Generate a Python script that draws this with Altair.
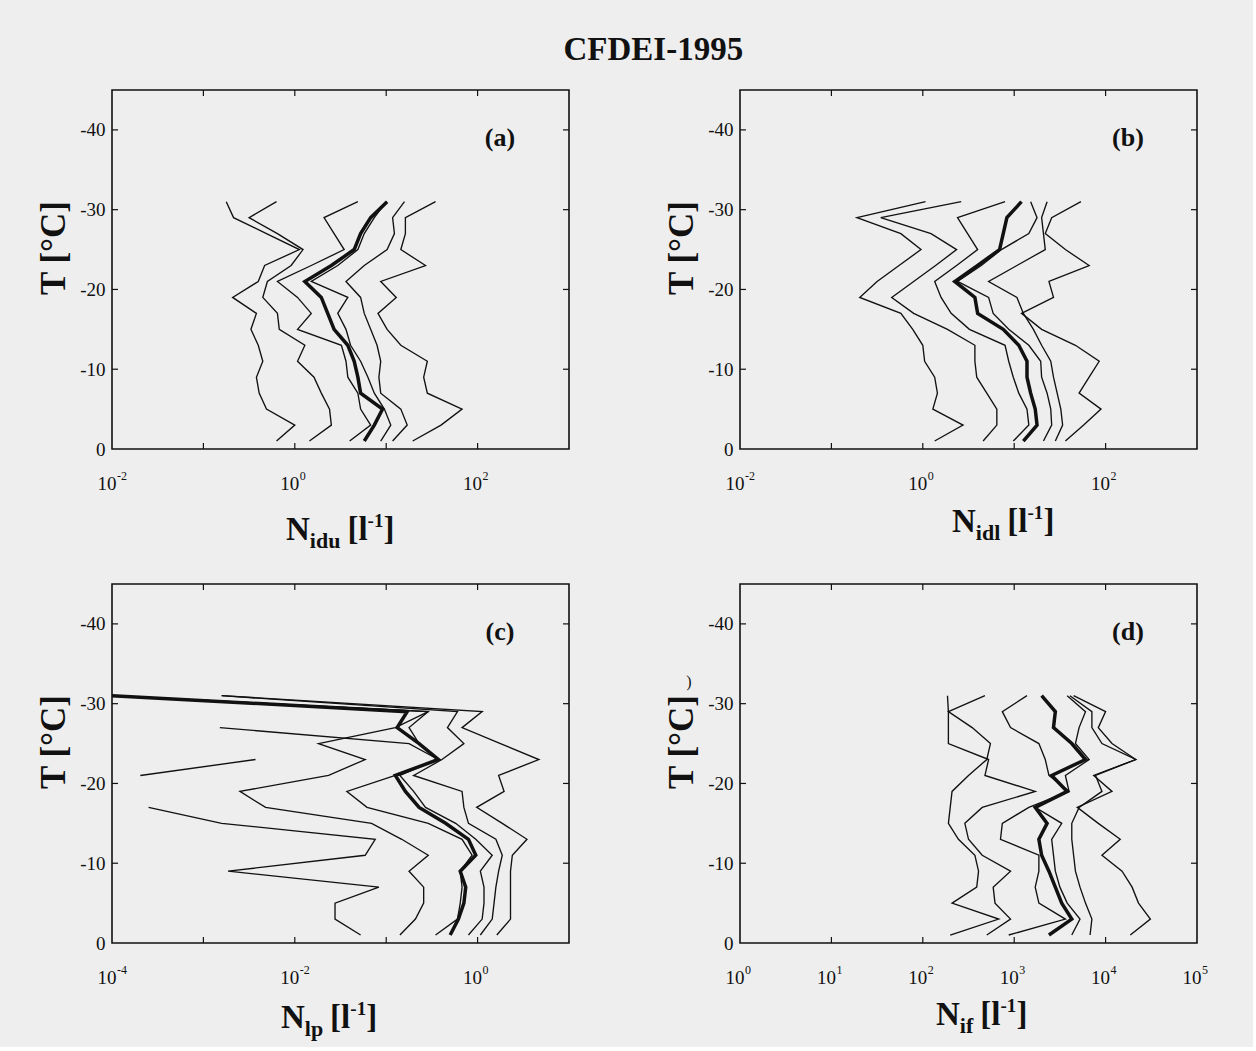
import altair as alt
import pandas as pd

TEMPS = [-1, -3, -5, -7, -9, -11, -13, -15, -17, -19, -21, -23, -25, -27, -29, -31]
Y_TICKS = [0, -10, -20, -30, -40]

# log10 of the concentration, for T = -1 ... -31 degC
A_LINES = [
    [-0.20, 0.00, -0.31, -0.39, -0.42, -0.35, -0.40, -0.48, -0.42, -0.68, -0.40, -0.33, 0.05, -0.31, -0.67, -0.75],
    [0.16, 0.40, 0.38, 0.29, 0.21, 0.03, 0.11, -0.17, -0.19, -0.35, -0.30, -0.04, 0.09, -0.19, -0.50, -0.20],
    [0.60, 0.83, 0.72, 0.69, 0.58, 0.56, 0.51, 0.03, 0.18, 0.03, -0.19, 0.18, 0.54, 0.43, 0.32, 0.69],
    [0.94, 1.05, 0.98, 0.87, 0.80, 0.72, 0.61, 0.56, 0.47, 0.58, 0.18, 0.47, 0.69, 0.76, 0.87, 1.00],
    [1.07, 1.23, 1.16, 0.94, 0.92, 0.94, 0.90, 0.83, 0.76, 0.72, 0.56, 0.76, 1.01, 1.09, 1.07, 1.20],
    [1.29, 1.60, 1.83, 1.45, 1.41, 1.45, 1.16, 1.01, 0.91, 1.11, 0.94, 1.43, 1.16, 1.21, 1.21, 1.54],
]
A_THICK = [0.76, 0.87, 0.96, 0.72, 0.69, 0.65, 0.58, 0.43, 0.36, 0.29, 0.11, 0.40, 0.65, 0.72, 0.83, 1.01]

B_LINES = [
    [0.13, 0.44, 0.11, 0.16, 0.13, 0.02, 0.00, -0.11, -0.24, -0.69, -0.50, -0.26, -0.02, -0.24, -0.72, 0.03],
    [0.66, 0.81, 0.81, 0.70, 0.59, 0.57, 0.57, 0.27, -0.10, -0.34, -0.10, 0.14, 0.37, 0.09, -0.46, 0.42],
    [0.99, 1.16, 1.14, 1.05, 0.99, 0.94, 0.90, 0.51, 0.31, 0.20, 0.13, 0.37, 0.60, 0.49, 0.38, 0.90],
    [1.32, 1.41, 1.40, 1.36, 1.30, 1.29, 1.16, 0.94, 0.77, 0.72, 0.38, 0.64, 0.86, 1.16, 1.25, 1.18],
    [1.45, 1.53, 1.51, 1.47, 1.43, 1.40, 1.30, 1.21, 1.10, 1.03, 0.72, 1.03, 1.34, 1.32, 1.30, 1.36],
    [1.56, 1.76, 1.95, 1.71, 1.82, 1.93, 1.67, 1.30, 1.08, 1.43, 1.38, 1.82, 1.56, 1.34, 1.41, 1.73],
]
B_THICK = [1.10, 1.25, 1.23, 1.18, 1.14, 1.14, 1.05, 0.88, 0.60, 0.57, 0.35, 0.60, 0.84, 0.88, 0.92, 1.08]

C_LINES = [
    [-1.28, -1.56, -1.56, -1.08, -2.73, -1.23, -1.12, -2.80, -3.60, None, -3.69, -2.43, None, None, None, None],
    [-0.85, -0.68, -0.59, -0.59, -0.75, -0.54, -0.83, -1.16, -2.32, -2.60, -1.63, -1.23, -1.74, -0.90, -0.54, -4.0],
    [-0.46, -0.22, -0.19, -0.17, -0.19, -0.06, -0.17, -0.54, -1.21, -1.43, -0.90, -0.43, -0.75, -2.82, None, None],
    [-0.10, 0.05, 0.07, 0.07, 0.03, 0.16, -0.02, -0.24, -0.57, -0.70, -0.85, -0.44, -0.64, -0.75, -0.54, -4.0],
    [0.03, 0.16, 0.18, 0.20, 0.23, 0.27, 0.20, -0.10, -0.15, -0.17, -0.70, -0.39, -0.15, -0.33, -0.22, -2.80],
    [0.21, 0.36, 0.36, 0.36, 0.36, 0.38, 0.54, 0.27, -0.01, 0.29, 0.23, 0.67, 0.25, -0.17, 0.05, -2.80],
]
C_THICK = [-0.30, -0.21, -0.15, -0.13, -0.19, -0.02, -0.10, -0.35, -0.64, -0.79, -0.90, -0.43, -0.64, -0.88, -0.77, -4.0]

D_LINES = [
    [2.30, 2.83, 2.32, 2.59, 2.61, 2.57, 2.39, 2.28, 2.30, 2.32, 2.50, 2.70, 2.74, 2.54, 2.28, 2.68],
    [2.70, 2.96, 2.79, 2.77, 2.96, 2.65, 2.50, 2.46, 2.65, 3.23, 2.68, 2.72, 2.28, 2.28, 2.28, 2.27],
    [2.94, 3.56, 3.27, 3.23, 3.27, 3.27, 2.85, 2.87, 3.16, 3.60, 3.38, 3.34, 3.27, 2.96, 2.87, 3.14],
    [3.63, 3.72, 3.58, 3.50, 3.45, 3.43, 3.41, 3.52, 3.23, 3.60, 3.56, 3.82, 3.67, 3.71, 3.78, 3.58],
    [3.83, 3.85, 3.78, 3.72, 3.67, 3.65, 3.63, 3.63, 3.71, 3.96, 3.89, 4.33, 3.96, 3.85, 3.85, 3.61],
    [4.27, 4.49, 4.36, 4.29, 4.18, 3.96, 4.16, 3.92, 3.69, 4.07, 3.87, 4.33, 4.07, 3.92, 4.00, 3.65],
]
D_THICK = [3.38, 3.63, 3.52, 3.45, 3.38, 3.30, 3.27, 3.36, 3.23, 3.58, 3.41, 3.78, 3.63, 3.43, 3.45, 3.30]

# axis decades (exponents) and labelled decades
A_DECADES = [-2, -1, 0, 1, 2, 3]
A_LABELS = ["-2", "0", "2"]
B_DECADES = [-2, -1, 0, 1, 2, 3]
B_LABELS = ["-2", "0", "2"]
C_DECADES = [-4, -3, -2, -1, 0, 1]
C_LABELS = ["-4", "-2", "0"]
D_DECADES = [0, 1, 2, 3, 4, 5]
D_LABELS = ["0", "1", "2", "3", "4", "5"]

SUBS = {"a": "idu", "b": "idl", "c": "lp", "d": "if"}
LETTERS = {"a": "(a)", "b": "(b)", "c": "(c)", "d": "(d)"}

W, H = 457, 359
SERIF = "Liberation Serif"
INK = "#111111"


def line_frame(lines, thick):
    rows = []
    allc = [(f"t{i}", v, False) for i, v in enumerate(lines)] + [("thick", thick, True)]
    for name, vals, is_thick in allc:
        seg = 0
        for k, (t, v) in enumerate(zip(TEMPS, vals)):
            if v is None:
                seg += 1
                continue
            rows.append({"curve": name, "seg": f"{name}-{seg}", "k": k, "T": t,
                         "N": 10 ** v, "thick": is_thick})
    return pd.DataFrame(rows)


def text_at(s, x, y, **kw):
    return alt.Chart(alt.Data(values=[{"s": s}])).mark_text(
        font=SERIF, color=INK, baseline="alphabetic", **kw).encode(
        x=alt.value(x), y=alt.value(y), text="s:N")


def panel(key, lines, thick, decades, labels, title_x, title_y, extra=None):
    df = line_frame(lines, thick)
    xs = alt.Scale(type="log", domain=[10 ** decades[0], 10 ** decades[-1]], nice=False)
    ys = alt.Scale(domain=[0, -45], nice=False, zero=False)
    yaxis = alt.Axis(values=Y_TICKS, labelExpr="toString(datum.value)", ticks=False, domain=False,
                     grid=False, labelFont=SERIF, labelFontSize=19, labelColor=INK, labelPadding=7,
                     title="T [°C]", titleFont=SERIF, titleFontSize=35, titleFontWeight="bold",
                     titleColor=INK, titlePadding=8, titleY=H / 2 - 22)

    thin = alt.Chart(df[~df.thick]).mark_line(color=INK, strokeWidth=1.35, clip=True).encode(
        x=alt.X("N:Q", scale=xs, axis=None),
        y=alt.Y("T:Q", scale=ys, axis=yaxis),
        detail="seg:N", order="k:Q")
    thk = alt.Chart(df[df.thick]).mark_line(color=INK, strokeWidth=3.5, clip=True).encode(
        x=alt.X("N:Q", scale=xs, axis=None),
        y=alt.Y("T:Q", scale=ys),
        detail="seg:N", order="k:Q")

    dec = pd.DataFrame({"v": [10 ** e for e in decades]})
    inner = dec.iloc[1:-1]
    tb = alt.Chart(inner).mark_rule(color=INK, strokeWidth=1.2).encode(
        x=alt.X("v:Q", scale=xs), y=alt.value(H), y2=alt.value(H - 6))
    tt = alt.Chart(inner).mark_rule(color=INK, strokeWidth=1.2).encode(
        x=alt.X("v:Q", scale=xs), y=alt.value(0), y2=alt.value(6))
    yt = pd.DataFrame({"t": Y_TICKS[1:]})
    tl = alt.Chart(yt).mark_rule(color=INK, strokeWidth=1.2).encode(
        y=alt.Y("t:Q", scale=ys), x=alt.value(0), x2=alt.value(6))
    tr = alt.Chart(yt).mark_rule(color=INK, strokeWidth=1.2).encode(
        y=alt.Y("t:Q", scale=ys), x=alt.value(W - 6), x2=alt.value(W))

    lab = pd.DataFrame({"v": [10 ** int(s) for s in labels], "e": labels, "b": ["10"] * len(labels)})
    ten = alt.Chart(lab).mark_text(font=SERIF, fontSize=19, color=INK, align="center",
                                   baseline="alphabetic", dx=-5).encode(
        x=alt.X("v:Q", scale=xs), y=alt.value(H + 41), text="b:N")
    exp = alt.Chart(lab).mark_text(font=SERIF, fontSize=12, color=INK, align="left",
                                   baseline="alphabetic", dx=5).encode(
        x=alt.X("v:Q", scale=xs), y=alt.value(H + 31), text="e:N")

    widths = {"N": 23.8, "idu": 30.6, "idl": 24.5, "lp": 18.3, "if": 13.5, "[l": 20.2, "-1": 16.0, "]": 11}
    gaps = {"[l": 7}
    pieces = [("N", 33, 0), (SUBS[key], 22, 8), ("[l", 33, 0), ("-1", 19, -13), ("]", 33, 0)]
    xt_layers = []
    cx = title_x
    for txt, fs, dy in pieces:
        cx += gaps.get(txt, 0)
        xt_layers.append(text_at(txt, cx, title_y + dy, fontSize=fs, fontWeight="bold", align="left"))
        cx += widths[txt]

    letter = text_at(LETTERS[key], 388, 56, fontSize=26, fontWeight="bold", align="center")

    layers = [thin, thk, tb, tt, tl, tr, ten, exp, letter] + xt_layers
    if extra is not None:
        layers.append(extra)
    return alt.layer(*layers).properties(width=W, height=H)


stray = text_at(")", -51, 103, fontSize=16, align="center")

pa = panel("a", A_LINES, A_THICK, A_DECADES, A_LABELS, 174, 450)
pb = panel("b", B_LINES, B_THICK, B_DECADES, B_LABELS, 212, 442)
pc = panel("c", C_LINES, C_THICK, C_DECADES, C_LABELS, 169, 444)
pd_ = panel("d", D_LINES, D_THICK, D_DECADES, D_LABELS, 196, 441, extra=stray)

chart = alt.concat(pa, pb, pc, pd_, columns=2, spacing={"row": 135, "column": 171},
                   bounds="flush").properties(
    title=alt.TitleParams("CFDEI-1995", font=SERIF, fontSize=33, fontWeight="bold", color=INK,
                          anchor="middle", offset=22, dx=31),
    padding={"left": 35, "top": 33, "right": 44, "bottom": 6},
).configure(background="#eeeeee").configure_view(stroke=INK, strokeWidth=1.6)

chart.save("out.html", embed_options={"renderer": "svg", "actions": False})
